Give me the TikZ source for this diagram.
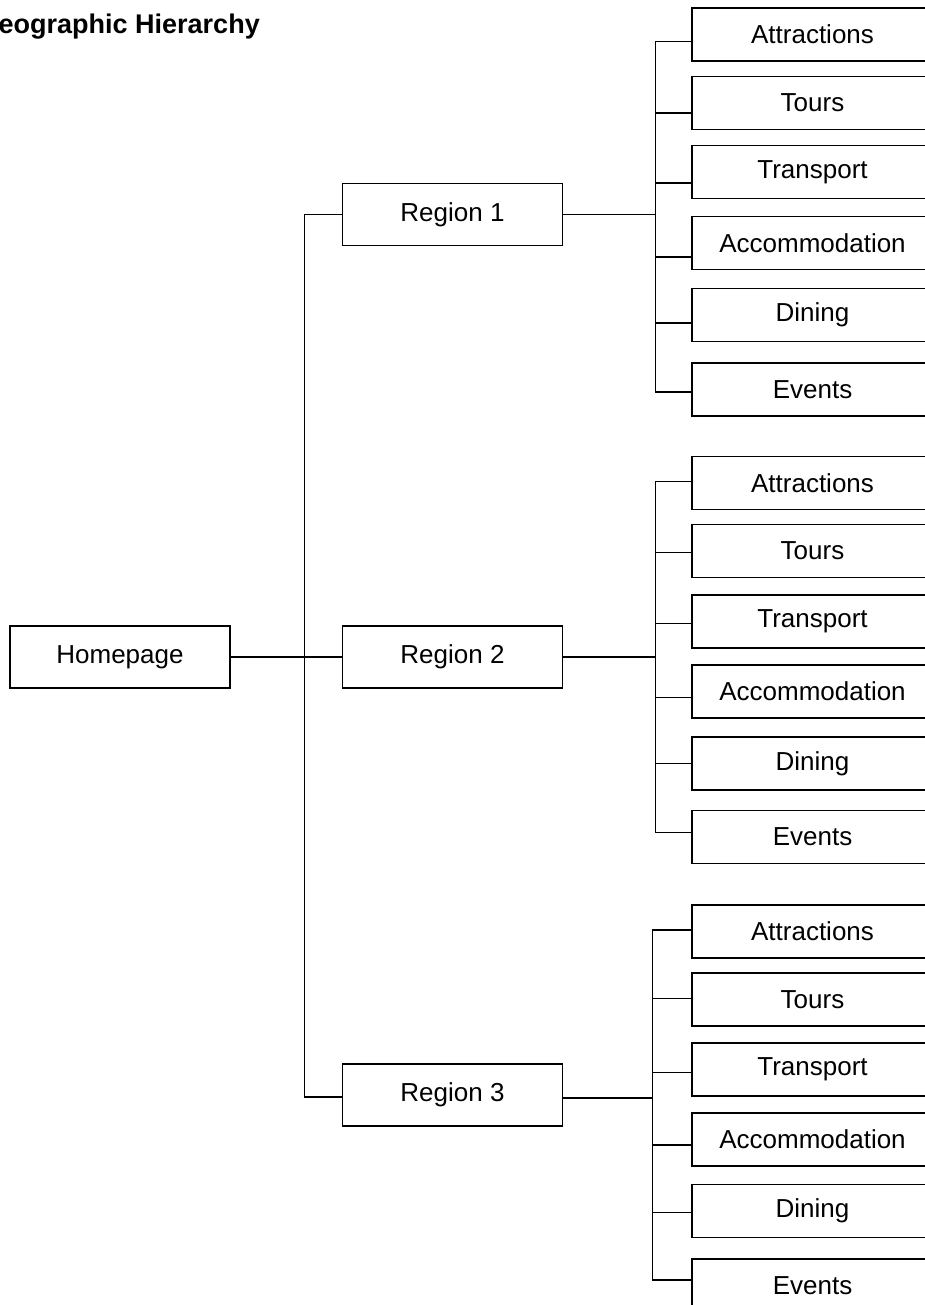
\documentclass[tikz,border=0pt]{standalone}
\usepackage{fontspec}
\setmainfont{Liberation Sans}
\begin{document}
\begin{tikzpicture}[x=1pt, y=-1pt,
  box/.style={draw, line width=1.5pt, inner sep=0pt, align=center,
              font=\fontsize{26}{30}\selectfont},
  topbox/.style={box, minimum width=220pt, minimum height=62pt},
  leaf/.style={box, minimum width=241pt, minimum height=53pt},
  link/.style={draw, line width=1.3pt},
  heading/.style={inner sep=0pt, anchor=base east,
                  font=\fontsize{27}{32}\selectfont\bfseries}]

\useasboundingbox (0,0) rectangle (925,1305);
\clip (0,0) rectangle (925,1305);

% title
\node[heading] (title) at (260,34) {Geographic Hierarchy};

% root and regions
\node[topbox] (H)  at (120,657)   {Homepage};
\node[topbox] (R1) at (452.5,214.5) {Region 1};
\node[topbox] (R2) at (452.5,657)   {Region 2};
\node[topbox] (R3) at (452.5,1095)  {Region 3};

\draw[link] (H.east) -| ([xshift=-37pt]R1.west) -- (R1.west);
\draw[link] (H.east) -- (R2.west);
\draw[link] (H.east) -| ([xshift=-37pt, yshift=-2pt]R3.west) -- ([yshift=-2pt]R3.west);

% leaves of region 1
\foreach \i/\t/\cy/\ky in {1/Attractions/34.5/41.7, 2/Tours/103/113,
    3/Transport/172/183, 4/Accommodation/243/257, 5/Dining/315/323,
    6/Events/389.5/392} {
  \node[leaf] (a\i) at (812.5,\cy) {\t};
  \pgfmathsetmacro\dy{\cy-\ky}
  \draw[link] (R1.east) -| ([xshift=-36pt, yshift=\dy pt]a\i.west)
                        -- ([yshift=\dy pt]a\i.west);
}

% leaves of region 2
\foreach \i/\t/\cy/\ky in {1/Attractions/483/481.7, 2/Tours/551/552.7,
    3/Transport/621.5/623.3, 4/Accommodation/691.5/697.3, 5/Dining/763.5/763.3,
    6/Events/837/832.7} {
  \node[leaf] (b\i) at (812.5,\cy) {\t};
  \pgfmathsetmacro\dy{\cy-\ky}
  \draw[link] (R2.east) -| ([xshift=-36pt, yshift=\dy pt]b\i.west)
                        -- ([yshift=\dy pt]b\i.west);
}

% leaves of region 3
\foreach \i/\t/\cy/\ky in {1/Attractions/931.5/930, 2/Tours/999.5/998.3,
    3/Transport/1069.5/1072.7, 4/Accommodation/1139.5/1145, 5/Dining/1211/1212.3,
    6/Events/1285.5/1280} {
  \node[leaf] (c\i) at (812.5,\cy) {\t};
  \pgfmathsetmacro\dy{\cy-\ky}
  \draw[link] ([yshift=-3pt]R3.east) -| ([xshift=-39pt, yshift=\dy pt]c\i.west)
                        -- ([yshift=\dy pt]c\i.west);
}
\end{tikzpicture}
\end{document}
